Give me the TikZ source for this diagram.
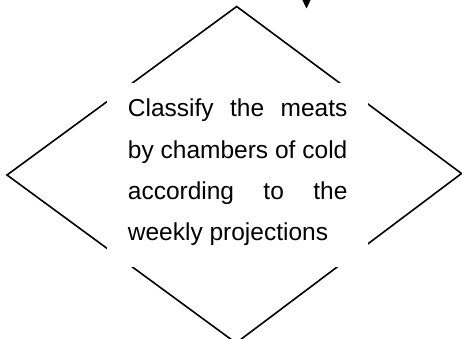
\documentclass[tikz,border=0pt]{standalone}
\usepackage{fontspec}
\setmainfont{Liberation Sans}
\usetikzlibrary{arrows.meta}
\tolerance=10000
\hyphenpenalty=10000
\begin{document}
\begin{tikzpicture}[x=1pt,y=1pt,
  edge/.style={line width=1.6pt, line join=miter},
  panel/.style={fill=white, draw=none, minimum width=261.6pt, minimum height=184pt, inner sep=0pt},
  label/.style={inner sep=0pt, text width=219.5pt, align=justify,
    font=\fontsize{24.5pt}{41.3pt}\selectfont, anchor=north west},
  pointer/.style={line width=0.5pt, -{Triangle[width=9.4pt,length=10pt]}}]
\useasboundingbox (0,0) rectangle (462,-338);
\clip (0,0) rectangle (462,-338);
\coordinate (top) at (236.7,-6.5);
\coordinate (right) at (461.5,-173.5);
\coordinate (bottom) at (236,-343);
\coordinate (left) at (7,-175);
\draw[edge] (top) -- (right) -- (bottom) -- (left) -- cycle;
\node[panel] (panel) at (237.5,-174.7) {};
\node[label] (text) at (127.7,-99) {Classify the meats\linebreak by chambers of cold\linebreak according to the\linebreak weekly projections};
\coordinate (arrowtop) at (306.5,2);
\coordinate (arrowtip) at (306.5,-8.5);
\draw[pointer] (arrowtop) -- (arrowtip);
\end{tikzpicture}
\end{document}
